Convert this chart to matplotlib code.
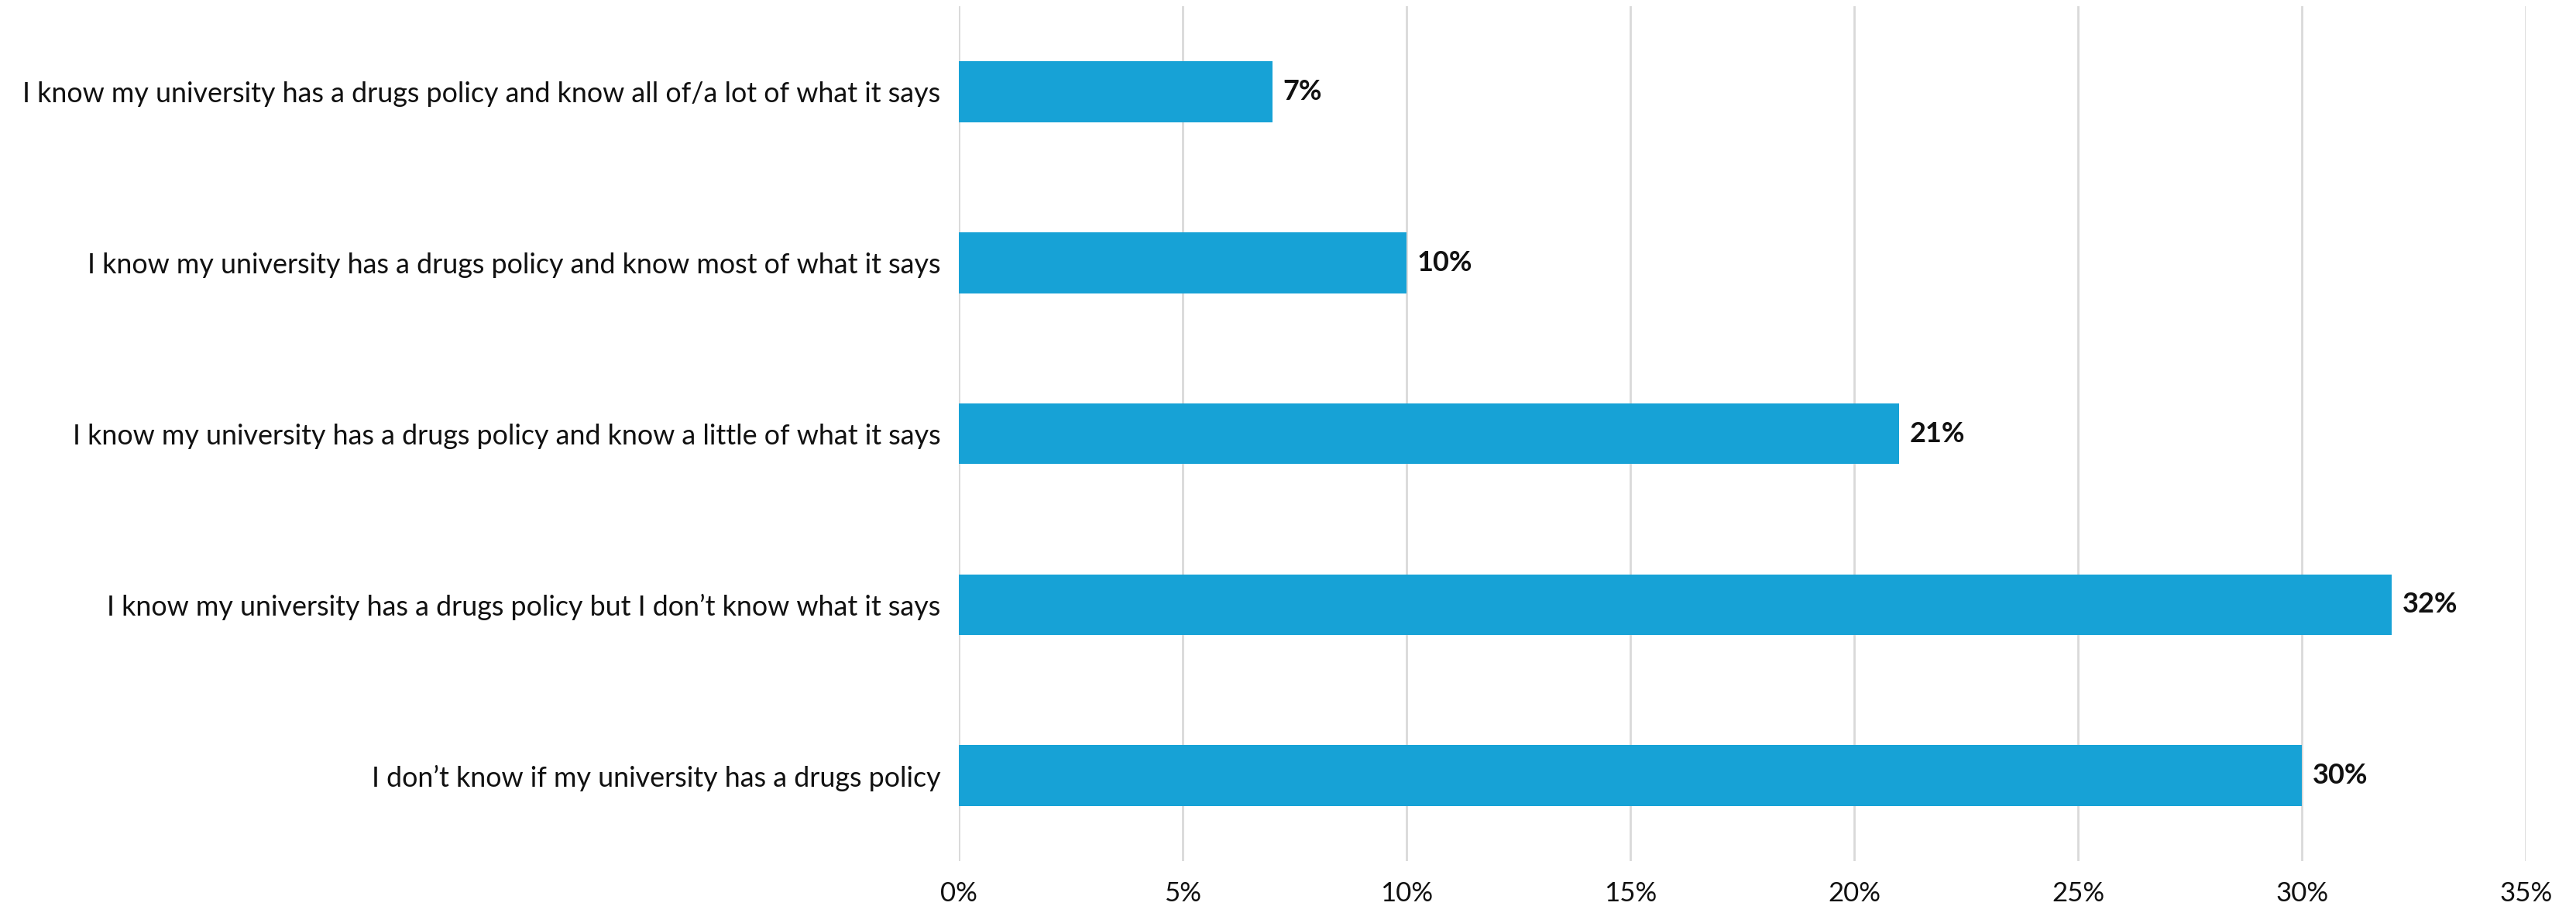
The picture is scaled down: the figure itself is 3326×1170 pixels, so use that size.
import matplotlib.pyplot as plt

plt.rcParams['font.family'] = ['Lato', 'DejaVu Sans']

labels = [
    'I know my university has a drugs policy and know all of/a lot of what it says',
    'I know my university has a drugs policy and know most of what it says',
    'I know my university has a drugs policy and know a little of what it says',
    'I know my university has a drugs policy but I don\u2019t know what it says',
    'I don\u2019t know if my university has a drugs policy',
]
values = [7, 10, 21, 32, 30]
ticks = [0, 5, 10, 15, 20, 25, 30, 35]

fig = plt.figure(figsize=(33.26, 11.70), dpi=100)
ax = fig.add_axes([0.3722, 0.0496, 0.6083, 0.9434])

ypos = list(range(len(labels)))
ax.barh(ypos, values, height=0.355, color='#17a2d6', zorder=3)

for y, v in zip(ypos, values):
    ax.annotate(f'{v}%', (v, y), xytext=(14, 0), textcoords='offset pixels',
                va='center', ha='left', fontsize=26, fontweight='bold', color='#111111')

ax.set_yticks(ypos)
ax.set_yticklabels(labels, fontsize=25.8, color='#111111')
ax.set_ylim(len(labels) - 0.5, -0.5)
ax.set_xlim(0, 35)
ax.set_xticks(ticks)
ax.set_xticklabels([f'{t}%' for t in ticks], fontsize=25, color='#111111')

ax.grid(axis='x', color='#d9d9d9', linewidth=2, zorder=0)
ax.tick_params(axis='both', length=0)
ax.tick_params(axis='x', pad=19)
ax.tick_params(axis='y', pad=17)
for s in ax.spines.values():
    s.set_visible(False)

plt.savefig('out.png', dpi=100)
